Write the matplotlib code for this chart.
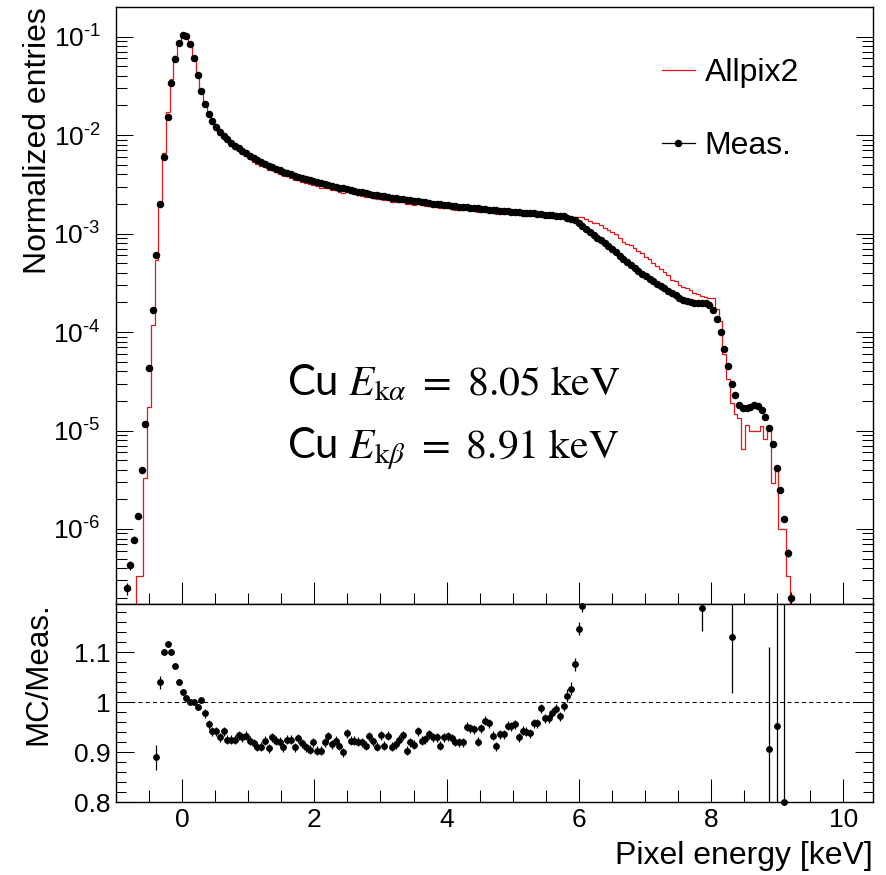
#! /usr/bin/env python
"""
Cu fluorescence pixel energy spectrum: Allpix2 simulation compared with
the measurement, plus the MC/Meas. ratio in a lower pad.
"""
import numpy as np
import matplotlib
matplotlib.use("Agg")
import matplotlib.pyplot as plt
from matplotlib.lines import Line2D
from matplotlib.ticker import (FuncFormatter, LogLocator, MultipleLocator,
                               NullFormatter)

nan = np.nan

# histogram binning [keV]
bin_width = 0.0565
first_center = -0.84
n_events = 2.0e8   # sets the Poisson error bars of the measurement

# normalized entries per bin, measurement
meas = [
    2.5e-7, 4.3e-7, 7.8e-7, 1.35e-6, 4.0e-6, 1.16e-5, 4.3e-5, 1.66e-4, 6.1e-4, 2.0e-3,
    6.0e-3, 1.53e-2, 3.35e-2, 5.9e-2, 0.087, 0.104, 0.1016, 0.0843, 0.060, 0.0407,
    0.0282, 0.0205, 0.0163, 0.01377, 0.0120, 0.01072, 0.00988, 0.00910, 0.00839, 0.00779,
    0.00734, 0.00690, 0.00652, 0.00614, 0.00585, 0.00560, 0.00535, 0.00512, 0.00490, 0.00472,
    0.00456, 0.00440, 0.00424, 0.00411, 0.00400, 0.00388, 0.00378, 0.00367, 0.00358, 0.00349,
    0.00341, 0.00333, 0.00325, 0.00318, 0.00311, 0.00305, 0.00299, 0.00292, 0.00287, 0.00282,
    0.00277, 0.00272, 0.00267, 0.00262, 0.00258, 0.00254, 0.00249, 0.00246, 0.00242, 0.00238,
    0.00235, 0.00232, 0.00229, 0.00225, 0.00222, 0.00220, 0.00217, 0.00214, 0.00212, 0.00209,
    0.00207, 0.00205, 0.00202, 0.00200, 0.00198, 0.00196, 0.00194, 0.00192, 0.00190, 0.00188,
    0.00187, 0.00185, 0.00183, 0.00182, 0.00180, 0.00178, 0.00177, 0.00175, 0.00174, 0.00173,
    0.00171, 0.00170, 0.00168, 0.00167, 0.00166, 0.00164, 0.00163, 0.00162, 0.00161, 0.00160,
    0.00158, 0.00157, 0.00156, 0.00155, 0.00153, 0.00152, 0.00151, 0.00150, 0.00145, 0.00141,
    0.00136, 0.00127, 0.00119, 0.00111, 0.00104, 0.000975, 0.000912, 0.000855, 0.000802, 0.000746,
    0.000692, 0.000643, 0.000596, 0.000553, 0.000516, 0.000482, 0.000450, 0.000420, 0.000393, 0.000370,
    0.000348, 0.000327, 0.000308, 0.000292, 0.000278, 0.000264, 0.000250, 0.000237, 0.000224, 0.000212,
    0.000207, 0.000203, 0.000199, 0.000198, 0.000196, 0.000195, 0.000190, 0.000166, 0.000136, 0.000100,
    6.8e-5, 4.5e-5, 3.0e-5, 2.3e-5, 1.82e-5, 1.68e-5, 1.70e-5, 1.75e-5, 1.80e-5, 1.78e-5,
    1.61e-5, 1.38e-5, 1.07e-5, 7.3e-6, 4.2e-6, 2.5e-6, 1.25e-6, 5.7e-7, 2.0e-7,
]

# normalized entries per bin, Allpix2 simulation
allpix = [
    0, 0, 0, 3.3e-7, 3.3e-7, 3.3e-6, 1.74e-5, 1.18e-4, 5.43e-4, 2.08e-3,
    6.6e-3, 0.01707, 0.03685, 0.0633, 0.0905, 0.1062, 0.1025, 0.0843, 0.060, 0.0403,
    0.02834, 0.02005, 0.01558, 0.01297, 0.01130, 0.00997, 0.00931, 0.00842, 0.00776, 0.00721,
    0.00686, 0.00642, 0.00608, 0.00567, 0.00537, 0.00510, 0.00487, 0.00473, 0.00445, 0.00439,
    0.00421, 0.00405, 0.00386, 0.00380, 0.00370, 0.00353, 0.00351, 0.00337, 0.00326, 0.00316,
    0.00314, 0.00301, 0.00293, 0.00293, 0.00290, 0.00279, 0.00276, 0.00267, 0.00258, 0.00265,
    0.00256, 0.00251, 0.00246, 0.00241, 0.00236, 0.00237, 0.00230, 0.00224, 0.00226, 0.00217,
    0.00219, 0.00211, 0.00210, 0.00208, 0.00207, 0.00199, 0.00200, 0.00196, 0.00200, 0.00193,
    0.00192, 0.00192, 0.00188, 0.00186, 0.00181, 0.00182, 0.00181, 0.00178, 0.00175, 0.00173,
    0.00172, 0.00176, 0.00173, 0.00172, 0.00166, 0.00169, 0.00170, 0.00168, 0.00162, 0.00158,
    0.00160, 0.00159, 0.00160, 0.00159, 0.00159, 0.00153, 0.00154, 0.00152, 0.00151, 0.00153,
    0.00151, 0.00155, 0.00151, 0.00150, 0.00150, 0.00150, 0.00147, 0.00149, 0.00147, 0.00145,
    0.00146, 0.00146, 0.00146, 0.00139, 0.00134, 0.00129, 0.00127, 0.00123, 0.00114, 0.00108,
    0.001035, 0.00100, 0.00090, 0.00082, 0.00079, 0.00076, 0.00071, 0.00066, 0.00063, 0.00058,
    0.00055, 0.00050, 0.00047, 0.00044, 0.00041, 0.00038, 0.00034, 0.000327, 0.00030, 0.00029,
    0.00028, 0.000266, 0.00025, 0.000245, 0.000233, 0.000226, 0.000221, 0.00022, 0.000171, 0.00013,
    6.0e-5, 3.3e-5, 1.9e-5, 1.46e-5, 1.35e-5, 6.5e-6, 1.15e-5, 1.0e-5, 1.0e-5, 1.0e-5,
    1.12e-5, 8.2e-6, 1.12e-5, 2.9e-6, 4.2e-6, 1.0e-6, 1.0e-6, 3.3e-7, 0,
]

# MC/Meas. per bin (nan where the ratio falls outside the lower pad)
ratio_main = [
    0.89, 1.04, 1.10, 1.116, 1.10, 1.073, 1.04, 1.021, 1.009, 1.0,
    1.0, 0.99, 1.005, 0.978, 0.956, 0.942, 0.942, 0.93, 0.942, 0.925,
    0.925, 0.925, 0.934, 0.93, 0.933, 0.923, 0.918, 0.911, 0.911, 0.923,
    0.908, 0.93, 0.923, 0.921, 0.91, 0.925, 0.925, 0.91, 0.928, 0.918,
    0.91, 0.905, 0.92, 0.903, 0.903, 0.92, 0.932, 0.916, 0.923, 0.913,
    0.90, 0.938, 0.923, 0.923, 0.921, 0.92, 0.913, 0.932, 0.922, 0.911,
    0.934, 0.913, 0.933, 0.911, 0.916, 0.925, 0.934, 0.903, 0.92, 0.915,
    0.942, 0.923, 0.926, 0.936, 0.93, 0.93, 0.913, 0.93, 0.932, 0.928,
    0.921, 0.92, 0.92, 0.951, 0.948, 0.946, 0.921, 0.948, 0.963, 0.958,
    0.933, 0.912, 0.936, 0.936, 0.953, 0.952, 0.956, 0.93, 0.943, 0.941,
    0.938, 0.958, 0.958, 0.988, 0.968, 0.968, 0.979, 0.987, 0.972, 0.992,
    1.013, 1.027, 1.076, 1.147, 1.193,
]
ratio_main_err = ([0.025, 0.013] + [0.006] * 11 + [0.009] * 97 + [0.013] * 5)

ratio = ([nan] * 8 + ratio_main + [nan] * 31 + [1.189] + [nan] * 7 + [1.13]
         + [nan] * 9 + [0.906, nan, 0.952, nan, 0.80, nan, nan])
ratio_err = ([nan] * 8 + ratio_main_err + [nan] * 31 + [0.047] + [nan] * 7
             + [0.112] + [nan] * 9 + [0.204, nan, 0.35, nan, 0.45, nan, nan])

meas = np.array(meas)
allpix = np.array(allpix)
ratio = np.array(ratio)
ratio_err = np.array(ratio_err)
centers = first_center + bin_width * np.arange(len(meas))
edges = np.append(centers - bin_width / 2, centers[-1] + bin_width / 2)
meas_err = np.sqrt(meas / n_events)

plt.rcParams.update({
    "font.family": ["Liberation Sans", "DejaVu Sans"],
    "mathtext.fontset": "custom",
    "mathtext.rm": "Liberation Sans",
    "mathtext.it": "Liberation Sans:italic",
    "mathtext.bf": "Liberation Sans:bold",
    "axes.linewidth": 1.0,
})


def pow10_label(v, pos):
    # ROOT-like 10^{-n}, with a short hyphen in the exponent
    return r"$10^{\text{-}%d}$" % abs(round(np.log10(v)))


W, H = 886, 875
fig = plt.figure(figsize=(W / 100, H / 100), dpi=100)
ax = fig.add_axes([116 / W, 1 - 604 / H, 757 / W, 597 / H])
rax = fig.add_axes([116 / W, 1 - 802 / H, 757 / W, 198 / H])

# upper pad: spectra
ax.stairs(np.where(allpix > 0, allpix, 1e-12), edges, baseline=None,
          color="#e3161c", lw=0.9, zorder=2)
ax.errorbar(centers, meas, yerr=meas_err, fmt="o", color="black", ms=4.4,
            elinewidth=0.9, capsize=0, zorder=3)
ax.set_yscale("log")
ax.set_xlim(-1.0, 10.45)
ax.set_ylim(1.73e-7, 0.2)
ax.yaxis.set_major_locator(LogLocator(base=10, numticks=20))
ax.yaxis.set_minor_locator(LogLocator(base=10, subs=np.arange(2, 10), numticks=20))
ax.yaxis.set_major_formatter(FuncFormatter(pow10_label))
ax.yaxis.set_minor_formatter(NullFormatter())
ax.xaxis.set_major_locator(MultipleLocator(2))
ax.xaxis.set_minor_locator(MultipleLocator(0.5))
ax.tick_params(axis="x", labelbottom=False)
ax.tick_params(which="both", direction="in", right=True, top=False, width=0.75)
ax.tick_params(axis="x", which="major", length=16)
ax.tick_params(axis="x", which="minor", length=8)
ax.tick_params(axis="y", which="major", length=12.5, labelsize=19, pad=11)
ax.tick_params(axis="y", which="minor", length=8)

handles = [Line2D([], [], color="#e3161c", lw=0.9),
           Line2D([], [], color="black", lw=0.9, marker="o", ms=4.4)]
ax.legend(handles, ["Allpix2", "Meas."], loc="upper left",
          bbox_to_anchor=((662 - 116) / 757, (604 - 58) / 597),
          frameon=False, fontsize=23, handlelength=1.03, handletextpad=0.3,
          labelspacing=1.34, borderpad=0, borderaxespad=0)

# lower pad: ratio
rax.axhline(1.0, color="black", lw=0.75, dashes=(4, 3), zorder=1)
rax.errorbar(centers, ratio, yerr=ratio_err, fmt="none", ecolor="black",
             elinewidth=0.9, capsize=0, zorder=2)
rax.plot(centers, ratio, "o", color="black", ms=3.9, clip_on=False, zorder=3)
rax.set_xlim(-1.0, 10.45)
rax.set_ylim(0.8, 1.197)
rax.xaxis.set_major_locator(MultipleLocator(2))
rax.xaxis.set_minor_locator(MultipleLocator(0.5))
rax.yaxis.set_major_locator(MultipleLocator(0.1))
rax.yaxis.set_minor_locator(MultipleLocator(0.02))
rax.yaxis.set_major_formatter(FuncFormatter(lambda v, p: "1" if abs(v - 1) < 1e-6 else "%.1f" % v))
rax.tick_params(which="both", direction="in", right=True, top=False, width=0.75)
rax.tick_params(axis="x", which="major", length=16.5, labelsize=19, pad=4)
rax.tick_params(axis="x", which="minor", length=8.5)
rax.tick_params(axis="y", which="major", length=13, labelsize=19, pad=4)
rax.tick_params(axis="y", which="minor", length=7)

# axis titles, right/top aligned
fig.text(38 / W, 1 - 7 / H, "Normalized entries", rotation=90, ha="center",
         va="top", fontsize=23)
fig.text(38 / W, 1 - 602 / H, "MC/Meas.", rotation=90, ha="center",
         va="top", fontsize=22.5)
fig.text(873 / W, 1 - 856 / H, "Pixel energy [keV]", ha="right",
         va="center", fontsize=23)

# Cu fluorescence lines
fig.text(287 / W, 1 - 395 / H,
         r"Cu $E_{\mathrm{k}\alpha}\ =\ 8.05\ \mathrm{keV}$",
         fontsize=30, family="Lato", math_fontfamily="stix")
fig.text(287 / W, 1 - 458 / H,
         r"Cu $E_{\mathrm{k}\beta}\ =\ 8.91\ \mathrm{keV}$",
         fontsize=30, family="Lato", math_fontfamily="stix")

fig.savefig("out.png", dpi=100)
